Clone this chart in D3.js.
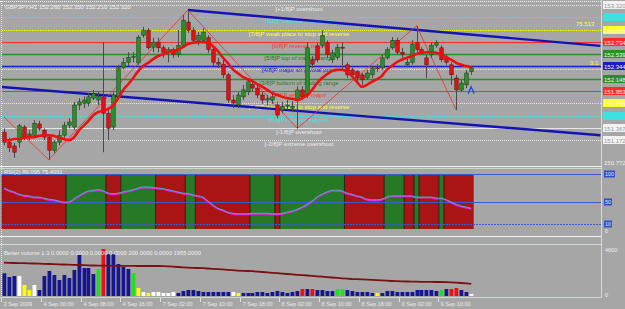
<!DOCTYPE html>
<html>
<head>
<meta charset="utf-8">
<script src="https://cdn.jsdelivr.net/npm/d3@7"></script>
<style>
body { margin: 0; background: #a6a6a6; }
svg { display: block; font-family: "Liberation Sans", Arial, sans-serif; }
</style>
</head>
<body>
<div id="chart"></div>
<script>
// GBPJPY H1
var symbol = 'GBPJPY,H1';
var timeLabels = ['3 Sep 2009', '4 Sep 00:00', '4 Sep 08:00', '4 Sep 16:00', '7 Sep 02:00', '7 Sep 10:00',
    '7 Sep 18:00', '8 Sep 02:00', '8 Sep 10:00', '8 Sep 18:00', '9 Sep 02:00', '9 Sep 10:00'];
var timeLabelBars = [0, 8, 16, 24, 32, 40, 48, 56, 64, 72, 80, 88];

var open = [151.30,151.14,151.08,151.14,151.38,151.24,151.25,151.43,151.33,151.22,
    151.01,151.14,151.25,151.41,151.38,151.73,151.76,151.76,151.84,151.81,
    151.86,151.60,151.38,151.86,152.33,152.41,152.49,152.40,152.84,152.92,
    152.65,152.73,152.64,152.57,152.61,152.53,152.68,153.05,152.92,152.76,
    152.76,152.80,152.61,152.41,152.38,152.21,151.81,151.73,151.86,151.94,
    152.06,152.00,151.89,151.81,151.81,151.73,151.65,151.71,151.68,151.81,
    151.97,151.89,152.45,152.67,152.68,152.72,152.45,152.49,152.65,152.37,
    152.29,152.26,152.21,152.16,152.21,152.32,152.32,152.48,152.64,152.76,
    152.57,152.37,152.41,152.72,152.61,152.48,152.53,152.68,152.64,152.48,
    152.37,152.16,151.97,152.05,152.26];
var high = [151.36,151.21,151.13,151.43,151.41,151.33,151.49,151.48,151.36,151.24,
    151.17,151.33,151.46,151.52,151.78,151.84,151.87,151.92,151.97,151.94,
    152.73,151.65,151.94,152.37,152.48,152.57,152.57,152.84,152.97,152.95,
    152.80,152.80,152.68,152.65,152.64,152.92,153.16,153.24,152.97,152.89,
    152.95,152.84,152.64,152.48,152.45,152.24,151.89,151.94,152.05,152.16,
    152.13,152.05,151.94,151.89,151.92,151.78,151.78,151.81,151.79,152.03,
    152.03,152.73,152.51,152.72,152.92,152.76,152.61,152.70,152.73,152.41,
    152.32,152.29,152.24,152.29,152.35,152.38,152.53,152.65,152.81,152.80,
    152.64,152.48,152.76,152.99,152.65,152.53,152.73,152.76,152.68,152.53,
    152.41,152.21,152.13,152.29,152.35];
var low = [151.09,150.98,150.89,151.05,151.17,151.17,151.21,151.32,151.17,150.86,
    150.97,151.09,151.21,151.36,151.33,151.65,151.68,151.71,151.81,151.73,
    150.98,151.17,151.33,151.81,152.29,152.35,152.41,152.37,152.80,152.61,
    152.57,152.57,152.48,152.41,152.48,152.49,152.64,152.88,152.72,152.68,
    152.73,152.56,152.35,152.32,152.16,151.76,151.68,151.68,151.81,151.89,
    151.94,151.84,151.75,151.73,151.75,151.52,151.60,151.65,151.62,151.36,
    151.81,151.84,152.32,152.41,152.64,152.48,152.40,152.45,152.29,152.16,
    152.16,152.10,152.05,152.13,152.16,152.26,152.29,152.45,152.61,152.53,
    152.48,152.33,152.37,152.57,152.53,152.16,152.48,152.64,152.41,152.37,
    152.05,151.65,151.94,152.00,152.21];
var close = [151.14,151.05,150.98,151.40,151.21,151.27,151.44,151.36,151.22,151.01,
    151.14,151.25,151.41,151.46,151.73,151.78,151.81,151.86,151.91,151.87,
    151.60,151.36,151.89,152.32,152.41,152.49,152.50,152.81,152.92,152.64,
    152.73,152.64,152.57,152.61,152.53,152.68,153.08,152.92,152.76,152.84,
    152.89,152.61,152.41,152.38,152.21,151.81,151.76,151.89,151.97,152.10,
    152.00,151.89,151.81,151.83,151.86,151.57,151.71,151.73,151.71,151.97,
    151.86,152.64,152.38,152.45,152.84,152.53,152.56,152.65,152.64,152.21,
    152.21,152.16,152.13,152.24,152.32,152.31,152.48,152.61,152.76,152.57,
    152.53,152.41,152.70,152.61,152.57,152.37,152.68,152.72,152.45,152.41,
    152.21,151.97,152.08,152.24,152.32];

// moving average (thick red)
var maValues = [151.17,151.17,151.19,151.19,151.21,151.22,151.22,151.24,151.25,151.25,
    151.24,151.21,151.19,151.17,151.21,151.32,151.40,151.48,151.57,151.62,
    151.64,151.67,151.73,151.84,151.97,152.06,152.16,152.27,152.35,152.40,
    152.46,152.51,152.54,152.57,152.59,152.61,152.65,152.70,152.72,152.73,
    152.73,152.72,152.67,152.59,152.49,152.40,152.30,152.24,152.18,152.14,
    152.11,152.06,152.02,151.97,151.92,151.89,151.86,151.84,151.83,151.81,
    151.84,151.89,151.97,152.08,152.16,152.22,152.27,152.29,152.29,152.26,
    152.19,152.10,152.02,152.05,152.10,152.14,152.19,152.29,152.35,152.41,
    152.45,152.48,152.51,152.54,152.56,152.57,152.57,152.56,152.53,152.49,
    152.45,152.40,152.37,152.35,152.33];

// zigzag turning points: bar index and price
var zigBars = [0, 9, 37, 59, 83, 91];
var zigPrices = [151.54, 150.86, 153.24, 151.36, 152.99, 151.65];

// regression channel end points
var channelUpperBars = [37, 120], channelUpperPrices = [153.24, 152.67];
var channelLowerBars = [-1, 120], channelLowerPrices = [152.02, 151.25];

// Murrey math levels
var mmLevels = [153.3203, 153.1250, 152.9297, 152.7344, 152.5391, 152.3438,
    152.1484, 151.9531, 151.7578, 151.5625, 151.3672, 151.1719];
var mmNames = ['[+1/8]P overshoot', '[8/8]P ultimate resistance', '[7/8]P weak place to stop and reverse',
    '[6/8]P reverse major', '[5/8]P top of trading range', '[4/8]P major s/r pivotal point',
    '[3/8]P bottom of trading range', '[2/8]P reverse major', '[1/8]P weak place to stop and reverse',
    '[0/8]P ultimate support', '[-1/8]P overshoot', '[-2/8]P extreme overshoot'];
var pivotLevel = 152.31;

// RSI panel
var rsiTitle = 'RSI(2) 89.095 75.4091';
var rsiValues = [75,71,68,64,62,61,59,59,57,55, 54,52,50,50,55,61,66,70,71,72,
    70,66,65,66,68,70,72,75,77,77, 76,75,74,72,70,68,66,65,63,61,
    59,52,45,39,36,32,30,29,29,29, 30,30,30,30,29,29,30,32,34,37,
    41,46,52,59,64,68,71,71,70,66, 64,61,59,55,54,54,55,59,61,61,
    61,61,61,59,59,59,59,57,57,54, 50,46,43,41,39];
var rsiBull = [0,0,0,0,0,0,0,0,0,0, 0,0,0,1,1,1,1,1,1,1,
    1,0,0,0,1,1,1,1,1,1, 1,0,0,0,0,0,0,1,1,0,
    0,0,0,0,0,0,0,0,0,0, 1,1,1,1,1,0,1,1,1,1,
    1,1,1,1,1,1,1,1,1,0, 0,0,0,0,0,0,0,1,1,1,
    1,0,0,1,0,0,0,0,1,0, 0,0,0,0,0];
var rsiLevels = [100, 50, 10];

// Better Volume panel
var volTitle = 'Better volume 1.3 0.0000 0.0000 0.0000 0.0000 200.0000 0.0000 1955.0000';
var volumes = [2270,1900,2000,2000,1100,600,1100,600,2000,2500,
    2100,1600,2100,1800,2600,4100,2800,2800,2200,2700,
    4700,4200,4200,3200,2900,2700,2300,800,400,300,
    400,400,300,300,400,300,500,600,600,500,
    400,400,400,400,400,400,400,300,300,300,
    300,400,400,300,400,500,400,300,400,500,
    700,700,700,600,600,500,500,700,700,600,
    500,400,400,400,300,300,300,500,500,400,
    400,400,400,600,600,600,600,500,600,700,
    700,800,600,400,200];
var volTypes = ['n','n','n','cd','lo','lo','cd','n','n','n',
    'n','n','n','n','n','n','n','n','n','ch',
    'cu','n','n','n','n','n','ch','lo','cd','lo',
    'cd','cd','cd','cd','cd','n','n','n','n','n',
    'n','n','n','n','n','n','cd','lo','n','n',
    'n','n','n','n','n','n','n','n','n','n',
    'cu','n','cu','n','n','n','n','ch','ch','n',
    'n','n','n','n','n','lo','n','n','n','n',
    'n','n','n','n','n','n','n','n','ch','n',
    'cu','cu','n','n','cd'];
var volAvg = [3330,3320,3300,3290,3280,3270,3250,3240,3220,3200,
    3180,3170,3150,3130,3110,3100,3080,3060,3050,3040,
    3030,3030,3020,3020,3010,3010,3010,3000,3000,3000,
    3000,3000,2990,2960,2930,2900,2870,2840,2820,2800,
    2780,2750,2720,2690,2660,2620,2580,2540,2510,2500,
    2480,2440,2400,2360,2320,2280,2240,2200,2160,2120,
    2090,2050,2010,1970,1930,1890,1850,1810,1770,1730,
    1700,1690,1670,1640,1610,1580,1560,1530,1500,1480,
    1460,1450,1440,1430,1420,1420,1410,1400,1400,1390,
    1370,1340,1300,1260,1220];
var volAxisLabels = ['4600', '0'];

// ---------- drawing ----------
var W = 625, H = 309, axisX = 601;
var mmColors = ['#e6e6e6', '#3ee0e0', '#ffff30', '#ff2a2a', '#2a8f2a', '#1c1cc0',
    '#2a8f2a', '#ff2a2a', '#ffff30', '#3ee0e0', '#e6e6e6', '#e6e6e6'];
var mmTextColors = ['#eeeeee', '#3ee0e0', '#ffff40', '#ff3030', '#1f7a1f', '#2222cc',
    '#1f7a1f', '#ff3030', '#ffff40', '#3ee0e0', '#eeeeee', '#eeeeee'];
var mmDash = ['1,1', '2,1', '1,1', null, null, null, null, null, '1,1', '2,1', null, '1,1'];
var mmWidth = [1, 1, 1, 1, 1.3, 1.5, 1.3, 1, 1, 1, 1, 1];
var volColors = {n: '#16168f', lo: '#ffff00', cd: '#ffffff', ch: '#22dd22', cu: '#ee1111'};

var svg = d3.select('#chart').append('svg')
    .attr('width', W)
    .attr('height', H);

svg.append('rect').attr('width', W).attr('height', H).attr('fill', '#a6a6a6');

var x = d3.scaleLinear().domain([0, 94]).range([4, 4 + 94 * 4.97]);
var y = d3.scaleLinear().domain([153.40, 150.772]).range([0, 165.3]);
var yR = d3.scaleLinear().domain([0, 100]).range([230, 174]);
var yV = d3.scaleLinear().domain([0, 4600]).range([296, 250]);
var bars = d3.range(close.length);

svg.append('clipPath').attr('id', 'mainClip')
    .append('rect').attr('x', 2).attr('y', 2).attr('width', axisX - 2).attr('height', 163);

// frames / separators
var frame = svg.append('g').attr('fill', 'none');
frame.append('line').attr('x1', 0).attr('x2', axisX).attr('y1', 1.5).attr('y2', 1.5)
    .attr('stroke', '#f4f4f4').attr('stroke-dasharray', '1,1');
frame.append('line').attr('x1', 1.5).attr('x2', 1.5).attr('y1', 1).attr('y2', 298)
    .attr('stroke', '#e8e8e8').attr('stroke-dasharray', '1,1');
[166.5, 168.5, 236.5, 244.5, 297.5].forEach(function(yy, k) {
    frame.append('line').attr('x1', 0).attr('x2', axisX).attr('y1', yy).attr('y2', yy)
        .attr('stroke', k == 0 || k == 2 ? '#f2f2f2' : '#cfd8cf');
});
frame.append('line').attr('x1', axisX + 0.5).attr('x2', axisX + 0.5).attr('y1', 0).attr('y2', 298)
    .attr('stroke', '#d4dcd4');

// ---- main panel ----
var main = svg.append('g').attr('clip-path', 'url(#mainClip)');

main.selectAll('line.mm')
    .data(mmLevels)
    .enter().append('line')
    .attr('x1', 2).attr('x2', axisX)
    .attr('y1', function(d) { return Math.round(y(d)) + 0.5; })
    .attr('y2', function(d) { return Math.round(y(d)) + 0.5; })
    .attr('stroke', function(d, i) { return mmColors[i]; })
    .attr('stroke-width', function(d, i) { return mmWidth[i]; })
    .attr('stroke-dasharray', function(d, i) { return mmDash[i]; });

main.append('line')
    .attr('x1', 2).attr('x2', axisX)
    .attr('y1', Math.round(y(pivotLevel)) + 0.5).attr('y2', Math.round(y(pivotLevel)) + 0.5)
    .attr('stroke', '#ffff30').attr('stroke-dasharray', '1,1');

main.selectAll('text.mm')
    .data(mmNames)
    .enter().append('text')
    .attr('x', 299)
    .attr('y', function(d, i) { return y(mmLevels[i]) + 6; })
    .attr('text-anchor', 'middle')
    .attr('font-size', 6)
    .attr('fill', function(d, i) { return mmTextColors[i]; })
    .text(function(d) { return d; });

// channel
function chan(bs, ps) {
    main.append('line')
        .attr('x1', x(bs[0])).attr('y1', y(ps[0]))
        .attr('x2', x(bs[1])).attr('y2', y(ps[1]))
        .attr('stroke', '#1414b4').attr('stroke-width', 2.4);
}
chan(channelUpperBars, channelUpperPrices);
chan(channelLowerBars, channelLowerPrices);

// zigzag
main.append('path')
    .datum(zigBars)
    .attr('fill', 'none')
    .attr('stroke', '#e83030')
    .attr('stroke-width', 0.8)
    .attr('d', d3.line()
        .x(function(d) { return x(d); })
        .y(function(d, i) { return y(zigPrices[i]); }));

// candles
var candles = main.selectAll('g.candle')
    .data(bars)
    .enter().append('g');

candles.append('line')
    .attr('x1', function(i) { return Math.round(x(i)) + 0.5; })
    .attr('x2', function(i) { return Math.round(x(i)) + 0.5; })
    .attr('y1', function(i) { return y(high[i]); })
    .attr('y2', function(i) { return y(low[i]); })
    .attr('stroke', '#4a4a4a');

candles.append('rect')
    .attr('x', function(i) { return Math.round(x(i)) - 1.25; })
    .attr('width', 3.5)
    .attr('y', function(i) { return y(Math.max(open[i], close[i])); })
    .attr('height', function(i) { return Math.max(1, Math.abs(y(open[i]) - y(close[i]))); })
    .attr('fill', function(i) { return close[i] >= open[i] ? '#2c8c2c' : '#dc1212'; })
    .attr('stroke', function(i) { return close[i] >= open[i] ? '#0d3d0d' : '#6a0a0a'; })
    .attr('stroke-width', 0.5);

// moving average
main.append('path')
    .datum(bars)
    .attr('fill', 'none')
    .attr('stroke', '#ee1010')
    .attr('stroke-width', 2.6)
    .attr('stroke-linejoin', 'round')
    .attr('d', d3.line()
        .curve(d3.curveMonotoneX)
        .x(function(i) { return x(i); })
        .y(function(i) { return y(maValues[i]); }));

// markers
var lastBar = bars.length - 1;
main.append('path')
    .attr('d', 'M' + (x(83) - 3) + ',' + (y(high[83]) + 1) + 'L' + x(83) + ',' + (y(high[83]) - 3) +
        'L' + (x(83) + 3) + ',' + (y(high[83]) + 1))
    .attr('fill', 'none').attr('stroke', '#ff9a30').attr('stroke-width', 1);
main.append('path')
    .attr('d', 'M' + (x(lastBar) - 3) + ',' + (y(low[lastBar]) + 19) + 'L' + x(lastBar) + ',' + (y(low[lastBar]) + 12) +
        'L' + (x(lastBar) + 3) + ',' + (y(low[lastBar]) + 19))
    .attr('fill', 'none').attr('stroke', '#2040e0').attr('stroke-width', 1.2);

main.append('text').attr('x', 576).attr('y', 26).attr('font-size', 6).attr('fill', '#ffff50').text('75.513');
main.append('text').attr('x', 590).attr('y', 65).attr('font-size', 6).attr('fill', '#ffff50').text('3.1');

// title
var fmt = d3.format('.3f');
svg.append('text').attr('x', 5).attr('y', 8.5).attr('font-size', 6).attr('fill', '#f4f4f4')
    .text(symbol + '  ' + [open[lastBar], high[lastBar], low[lastBar], close[lastBar]].map(fmt).join(' '));

// price axis boxes
var pAxis = svg.append('g');
mmLevels.forEach(function(p, i) {
    var yy = Math.round(y(p));
    var light = mmColors[i] == '#e6e6e6';
    pAxis.append('rect').attr('x', axisX + 2).attr('y', yy - 4).attr('width', 23).attr('height', 8)
        .attr('fill', light ? '#f2f2f2' : mmColors[i]);
    pAxis.append('text').attr('x', axisX + 3).attr('y', yy + 2.5).attr('font-size', 6)
        .attr('fill', light ? '#9a9a9a' : (i == 1 || i == 9 ? '#3ee0e0' : '#f4f4f4'))
        .text(fmt(p));
});
pAxis.append('text').attr('x', axisX + 3).attr('y', 165).attr('font-size', 6).attr('fill', '#eeeeee')
    .text(fmt(y.domain()[1]));

// ---- RSI panel ----
var rsi = svg.append('g');
var runs = [];
bars.forEach(function(i) {
    if (runs.length && runs[runs.length - 1].v == rsiBull[i]) runs[runs.length - 1].end = i;
    else runs.push({v: rsiBull[i], start: i, end: i});
});
var half = 4.97 / 2;
rsi.selectAll('rect.run')
    .data(runs)
    .enter().append('rect')
    .attr('x', function(d) { return x(d.start) - half; })
    .attr('width', function(d) { return x(d.end) - x(d.start) + 2 * half; })
    .attr('y', 174.5)
    .attr('height', 54.5)
    .attr('fill', function(d) { return d.v ? '#267a26' : '#aa1414'; });
rsi.selectAll('line.edge')
    .data(runs.filter(function(d) { return d.v; }))
    .enter().append('path')
    .attr('d', function(d) {
        var a = x(d.start) - half, b = x(d.end) + half;
        return 'M' + a + ',174.5V229M' + b + ',174.5V229';
    })
    .attr('stroke', '#151515').attr('stroke-width', 0.8);

rsi.selectAll('line.lvl')
    .data(rsiLevels)
    .enter().append('line')
    .attr('x1', 2).attr('x2', axisX)
    .attr('y1', function(d) { return Math.round(yR(d)) + 0.5; })
    .attr('y2', function(d) { return Math.round(yR(d)) + 0.5; })
    .attr('stroke', '#3a5ccc')
    .attr('stroke-width', 1.2)
    .attr('stroke-dasharray', function(d, i) { return i == 2 ? '2,1' : null; });

var rsiLine = d3.line().curve(d3.curveMonotoneX)
    .x(function(i) { return x(i); })
    .y(function(i) { return yR(rsiValues[i]); });
rsi.append('path').datum(bars).attr('fill', 'none').attr('stroke', '#ee22ee').attr('stroke-width', 1.4)
    .attr('transform', 'translate(0,0.8)').attr('d', rsiLine);
rsi.append('path').datum(bars).attr('fill', 'none').attr('stroke', '#30c8d8').attr('stroke-width', 0.8)
    .attr('d', rsiLine);

rsi.append('text').attr('x', 4).attr('y', 173.5).attr('font-size', 5.8).attr('fill', '#f0f0f0').text(rsiTitle);
rsiLevels.forEach(function(v) {
    var yy = Math.round(yR(v));
    rsi.append('rect').attr('x', axisX + 3).attr('y', yy - 3.5).attr('width', v == 100 ? 11 : 8).attr('height', 7)
        .attr('fill', '#3050c4');
    rsi.append('text').attr('x', axisX + 4).attr('y', yy + 2).attr('font-size', 5.5).attr('fill', '#e8e8ff').text(v);
});
rsi.append('text').attr('x', axisX + 4).attr('y', 233).attr('font-size', 5.5).attr('fill', '#eeeeee').text('0');

// ---- volume panel ----
var vol = svg.append('g');
vol.selectAll('rect.v')
    .data(bars)
    .enter().append('rect')
    .attr('x', function(i) { return Math.round(x(i)) - 1.5; })
    .attr('width', 3.8)
    .attr('y', function(i) { return yV(volumes[i]); })
    .attr('height', function(i) { return yV(0) - yV(volumes[i]); })
    .attr('fill', function(i) { return volColors[volTypes[i]]; });

vol.append('path')
    .datum(bars)
    .attr('fill', 'none')
    .attr('stroke', '#7a1010')
    .attr('stroke-width', 1.8)
    .attr('d', d3.line()
        .x(function(i) { return x(i); })
        .y(function(i) { return yV(volAvg[i]); }));

vol.append('text').attr('x', 4).attr('y', 254.5).attr('font-size', 5.8).attr('fill', '#f0f0f0').text(volTitle);
vol.append('text').attr('x', axisX + 4).attr('y', 252).attr('font-size', 5.5).attr('fill', '#eeeeee').text(volAxisLabels[0]);
vol.append('text').attr('x', axisX + 4).attr('y', 297).attr('font-size', 5.5).attr('fill', '#eeeeee').text(volAxisLabels[1]);

// ---- time axis ----
var tAxis = svg.append('g');
timeLabelBars.forEach(function(b, k) {
    var xx = Math.round(x(b)) - 2.5;
    tAxis.append('line').attr('x1', xx).attr('x2', xx).attr('y1', 298).attr('y2', 302)
        .attr('stroke', '#e0e0e0');
    tAxis.append('text').attr('x', xx + 2).attr('y', 306).attr('font-size', 5.6).attr('fill', '#ececec')
        .text(timeLabels[k]);
});
</script>
</body>
</html>
